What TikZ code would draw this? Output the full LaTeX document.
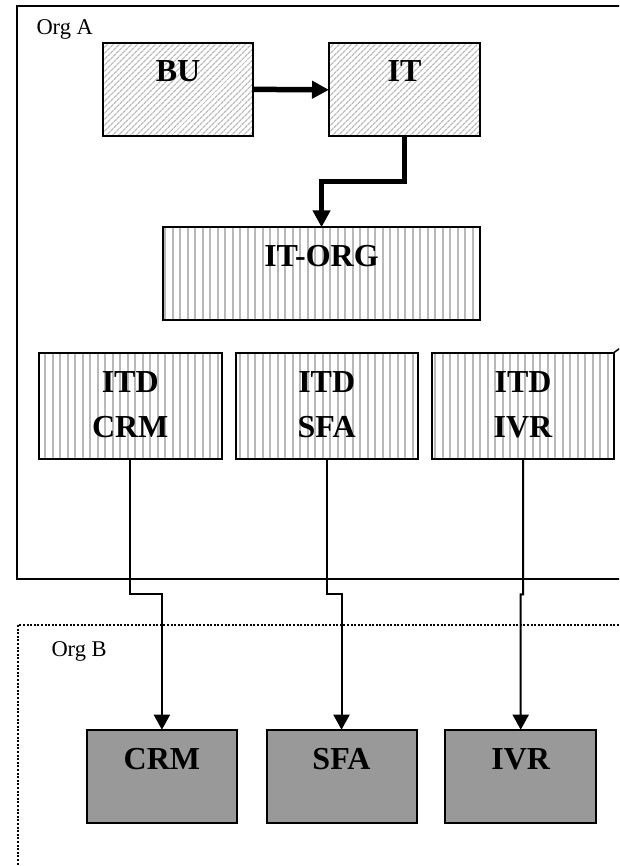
\documentclass[tikz,border=0pt]{standalone}
\usepackage{fontspec}
\setmainfont{Liberation Serif}
\usetikzlibrary{arrows.meta,patterns.meta,calc}
\begin{document}
\begin{tikzpicture}[x=1pt,y=-1pt,
  boxbase/.style={draw,line width=2pt,inner sep=0pt,outer sep=0pt,anchor=north west},
  diagbox/.style={boxbase,pattern={Lines[angle=45,distance=4pt,line width=1.3pt]},pattern color=gray!55},
  vertbox/.style={boxbase,pattern={Lines[angle=90,distance=7.5pt,line width=2pt]},pattern color=gray!55},
  darkbox/.style={boxbase,fill=gray!80!white},
  lbl/.style={font=\fontsize{32}{38}\selectfont\bfseries,anchor=base,inner sep=0pt},
  orglbl/.style={font=\fontsize{22.5}{27}\selectfont,anchor=base west,inner sep=0pt},
  thickarrow/.style={line width=5.5pt,-{Triangle[length=17pt,width=17pt]}},
  thinarrow/.style={line width=2pt,-{Triangle[length=15pt,width=16pt]}},
  frame/.style={line width=2pt},
  dotframe/.style={line width=2pt,dash pattern=on 2pt off 1.6pt}
]
\useasboundingbox (0,0) rectangle (619,866);
\clip (0,0) rectangle (619,866);

% frames
\draw[frame] (16.6,5.7) rectangle (650,579.3);
\draw[dotframe] (17.8,625) rectangle (650,900);
\node[orglbl] (orga) at (36.3,35) {Org A};
\node[orglbl] (orgb) at (51.3,656) {Org B};

% top boxes
\node[diagbox,minimum width=150.8pt,minimum height=93.3pt] (bu) at (102.6,42.7) {};
\node[diagbox,minimum width=151pt,minimum height=93.3pt] (it) at (329,43.2) {};
\node[vertbox,minimum width=316.3pt,minimum height=92.7pt] (itorg) at (163.4,227.3) {};
\node[lbl] (butxt) at (178,81.7) {BU};
\node[lbl] (ittxt) at (404.5,81.7) {IT};
\node[lbl] (itorgtxt) at (321.5,266.7) {IT-ORG};

% ITD boxes
\node[vertbox,minimum width=182.5pt,minimum height=106.6pt] (itdcrm) at (39,352.7) {};
\node[vertbox,minimum width=182pt,minimum height=106.6pt] (itdsfa) at (235.7,352.7) {};
\node[vertbox,minimum width=181.4pt,minimum height=106.6pt] (itdivr) at (432.3,352.7) {};
\node[lbl] (itd1a) at (130.25,392.7) {ITD};
\node[lbl] (itd1b) at (130.25,437.7) {CRM};
\node[lbl] (itd2a) at (326.7,392.7) {ITD};
\node[lbl] (itd2b) at (326.7,437.7) {SFA};
\node[lbl] (itd3a) at (523,392.7) {ITD};
\node[lbl] (itd3b) at (523,437.7) {IVR};
\coordinate (tickend) at (621,347.5);
\draw[line width=1.5pt] (itdivr.north east) -- (tickend);

% Org B boxes
\node[darkbox,minimum width=150.8pt,minimum height=93.3pt] (crm) at (86.5,729.7) {};
\node[darkbox,minimum width=150pt,minimum height=93.3pt] (sfa) at (266.5,729.7) {};
\node[darkbox,minimum width=150.8pt,minimum height=93.3pt] (ivr) at (445.3,729.7) {};
\node[lbl] (crmtxt) at (161.9,769.3) {CRM};
\node[lbl] (sfatxt) at (341.5,769.3) {SFA};
\node[lbl] (ivrtxt) at (520.7,769.3) {IVR};

% connectors
\draw[thickarrow] (bu.east) -- (it.west);
\coordinate (itbend) at (404.5,181.7);
\draw[thickarrow] (it.south) -- (itbend) -| (itorg.north);

\coordinate (j1) at (130.25,594.3);
\coordinate (j2) at (326.7,594.3);
\coordinate (j3) at (523.2,594.3);
\draw[thinarrow] (itdcrm.south) -- (j1) -| (crm.north);
\draw[thinarrow] (itdsfa.south) -- (j2) -| (sfa.north);
\draw[thinarrow] (itdivr.south) -- (j3) -| (ivr.north);
\end{tikzpicture}
\end{document}
